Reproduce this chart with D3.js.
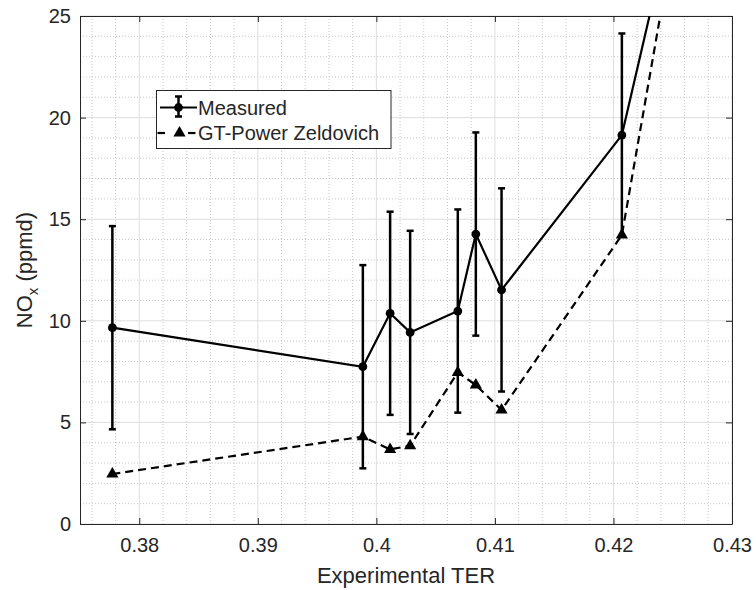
<!DOCTYPE html>
<html>
<head>
<meta charset="utf-8">
<script src="https://cdn.jsdelivr.net/npm/d3@7"></script>
<style>
  html, body { margin: 0; padding: 0; background: #fff; }
  svg text { font-family: "Liberation Sans", Arial, sans-serif; fill: #262626; }
</style>
</head>
<body>
<svg id="chart" width="756" height="590"></svg>
<script>
// Experimental TER on x, NOx (ppmd) on y
const terValues      = [0.37773, 0.39886, 0.40116, 0.40285, 0.40687, 0.40839, 0.41056, 0.42071, 0.4265];
const measuredNox    = [9.66, 7.74, 10.37, 9.43, 10.48, 14.27, 11.52, 19.14, 33.7];
const measuredErr    = [5.0, 5.0, 5.0, 5.0, 5.0, 5.0, 5.0, 5.0, 5.0];
const zeldovichNox   = [2.46, 4.30, 3.67, 3.85, 7.46, 6.84, 5.61, 14.22, 33.5];
const xTicks = [0.38, 0.39, 0.40, 0.41, 0.42, 0.43];
const yTicks = [0, 5, 10, 15, 20, 25];
const seriesNames = ["Measured", "GT-Power Zeldovich"];

const svg = d3.select("#chart");
const pLeft = 80, pRight = 732, pTop = 16, pBottom = 524;

const x = d3.scaleLinear().domain([0.375, 0.43]).range([pLeft, pRight]);
const y = d3.scaleLinear().domain([0, 25]).range([pBottom, pTop]);

// minor grid (dotted)
const xMinor = d3.range(0.376, 0.4301, 0.002).filter(v => !xTicks.some(t => Math.abs(t - v) < 1e-6));
const yMinor = d3.range(0, 25.01, 1).filter(v => v % 5 !== 0);
const grid = svg.append("g");
grid.selectAll(".xm").data(xMinor).join("line")
  .attr("x1", d => x(d)).attr("x2", d => x(d)).attr("y1", pTop).attr("y2", pBottom)
  .attr("stroke", "#c8c8c8").attr("stroke-width", 1).attr("stroke-dasharray", "1,2");
grid.selectAll(".ym").data(yMinor).join("line")
  .attr("y1", d => y(d)).attr("y2", d => y(d)).attr("x1", pLeft).attr("x2", pRight)
  .attr("stroke", "#c8c8c8").attr("stroke-width", 1).attr("stroke-dasharray", "1,2");
// major grid
grid.selectAll(".xM").data(xTicks).join("line")
  .attr("x1", d => x(d)).attr("x2", d => x(d)).attr("y1", pTop).attr("y2", pBottom)
  .attr("stroke", "#dedede").attr("stroke-width", 1);
grid.selectAll(".yM").data(yTicks).join("line")
  .attr("y1", d => y(d)).attr("y2", d => y(d)).attr("x1", pLeft).attr("x2", pRight)
  .attr("stroke", "#dedede").attr("stroke-width", 1);

// axes with inward ticks on all four sides
const fmtX = d => d3.format(".2~f")(d);
const axB = svg.append("g").attr("transform", `translate(0,${pBottom})`)
  .call(d3.axisBottom(x).tickValues(xTicks).tickFormat(fmtX).tickSizeInner(-6).tickSizeOuter(0).tickPadding(14));
const axT = svg.append("g").attr("transform", `translate(0,${pTop})`)
  .call(d3.axisTop(x).tickValues(xTicks).tickFormat("").tickSizeInner(-6).tickSizeOuter(0));
const axL = svg.append("g").attr("transform", `translate(${pLeft},0)`)
  .call(d3.axisLeft(y).tickValues(yTicks).tickSizeInner(-6).tickSizeOuter(0).tickPadding(9));
const axR = svg.append("g").attr("transform", `translate(${pRight},0)`)
  .call(d3.axisRight(y).tickValues(yTicks).tickFormat("").tickSizeInner(-6).tickSizeOuter(0));
[axB, axT, axL, axR].forEach(a => {
  a.select(".domain").attr("stroke", "#262626").attr("stroke-width", 1);
  a.selectAll(".tick line").attr("stroke", "#262626");
  a.selectAll(".tick text").attr("font-size", 20).attr("fill", "#262626")
    .style("font-family", '"Liberation Sans", Arial, sans-serif');
});
axB.selectAll(".tick text").attr("dy", "0.71em");

// axis titles
svg.append("text").attr("x", (pLeft + pRight) / 2).attr("y", 583)
  .attr("text-anchor", "middle").attr("font-size", 22).text("Experimental TER");
const yl = svg.append("text")
  .attr("transform", `translate(32,${(pTop + pBottom) / 2}) rotate(-90)`)
  .attr("text-anchor", "middle").attr("font-size", 22);
yl.append("tspan").text("NO");
yl.append("tspan").attr("font-size", 15).attr("dy", 6).text("x");
yl.append("tspan").attr("dy", -6).text(" (ppmd)");

// data
svg.append("defs").append("clipPath").attr("id", "plotClip")
  .append("rect").attr("x", pLeft).attr("y", pTop).attr("width", pRight - pLeft).attr("height", pBottom - pTop);
const plot = svg.append("g").attr("clip-path", "url(#plotClip)");

const measured = terValues.map((t, i) => ({ x: t, y: measuredNox[i], e: measuredErr[i] }));
const simulated = terValues.map((t, i) => ({ x: t, y: zeldovichNox[i] }));
const line = d3.line().x(d => x(d.x)).y(d => y(d.y));

// simulated dashed line
plot.append("path").datum(simulated).attr("d", line)
  .attr("fill", "none").attr("stroke", "#000").attr("stroke-width", 2.2).attr("stroke-dasharray", "8,5");

// measured line
plot.append("path").datum(measured).attr("d", line)
  .attr("fill", "none").attr("stroke", "#000").attr("stroke-width", 2.2);

// error bars
const eb = plot.selectAll(".eb").data(measured).join("g");
eb.append("line").attr("x1", d => x(d.x)).attr("x2", d => x(d.x))
  .attr("y1", d => y(d.y - d.e)).attr("y2", d => y(d.y + d.e))
  .attr("stroke", "#000").attr("stroke-width", 2.5);
eb.append("line").attr("x1", d => x(d.x) - 3.5).attr("x2", d => x(d.x) + 3.5)
  .attr("y1", d => y(d.y + d.e)).attr("y2", d => y(d.y + d.e))
  .attr("stroke", "#000").attr("stroke-width", 2.5);
eb.append("line").attr("x1", d => x(d.x) - 3.5).attr("x2", d => x(d.x) + 3.5)
  .attr("y1", d => y(d.y - d.e)).attr("y2", d => y(d.y - d.e))
  .attr("stroke", "#000").attr("stroke-width", 2.5);

// markers
const tri = d3.symbol().type(d3.symbolTriangle).size(64);
plot.selectAll(".tri").data(simulated).join("path")
  .attr("d", tri).attr("transform", d => `translate(${x(d.x)},${y(d.y)})`).attr("fill", "#000");
plot.selectAll(".dot").data(measured).join("circle")
  .attr("cx", d => x(d.x)).attr("cy", d => y(d.y)).attr("r", 4.4).attr("fill", "#000");

// legend
const lg = svg.append("g");
lg.append("rect").attr("x", 156.5).attr("y", 90.5).attr("width", 234.5).attr("height", 58)
  .attr("fill", "#fff").attr("stroke", "#262626").attr("stroke-width", 1);
// row 1: measured
const r1 = 107.5;
lg.append("line").attr("x1", 160).attr("x2", 197).attr("y1", r1).attr("y2", r1)
  .attr("stroke", "#000").attr("stroke-width", 2.2);
lg.append("line").attr("x1", 178.5).attr("x2", 178.5).attr("y1", r1 - 11).attr("y2", r1 + 9)
  .attr("stroke", "#000").attr("stroke-width", 2.5);
[r1 - 11, r1 + 9].forEach(v => lg.append("line").attr("x1", 175).attr("x2", 182).attr("y1", v).attr("y2", v)
  .attr("stroke", "#000").attr("stroke-width", 2.5));
lg.append("circle").attr("cx", 178.5).attr("cy", r1).attr("r", 4.4).attr("fill", "#000");
lg.append("text").attr("x", 198).attr("y", r1 + 7).attr("font-size", 20).text(seriesNames[0]);
// row 2: simulated
const r2 = 133;
[[157.5, 165], [188, 195.5]].forEach(([a, b]) => lg.append("line")
  .attr("x1", a).attr("x2", b).attr("y1", r2).attr("y2", r2)
  .attr("stroke", "#000").attr("stroke-width", 2.2));
lg.append("path").attr("d", tri).attr("transform", `translate(179.5,${r2})`).attr("fill", "#000");
lg.append("text").attr("x", 198).attr("y", r2 + 7).attr("font-size", 20).text(seriesNames[1]);
</script>
</body>
</html>
